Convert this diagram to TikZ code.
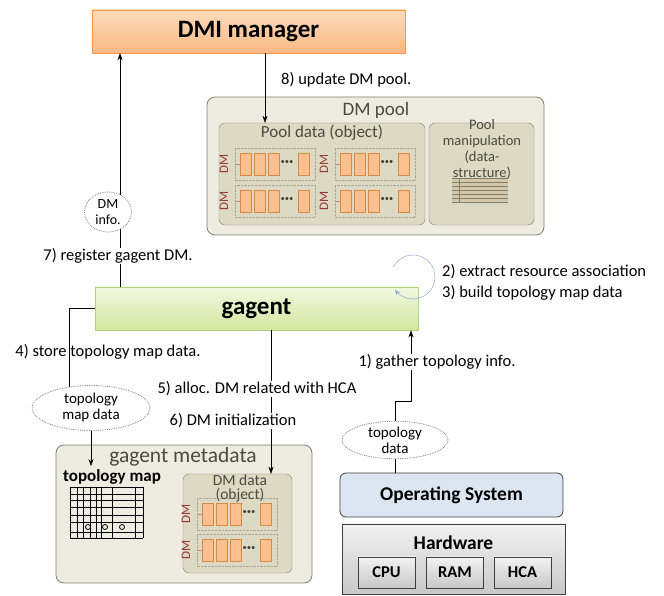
\documentclass[tikz,border=0pt]{standalone}
\usepackage{fontspec}
\setmainfont{Carlito}
\usetikzlibrary{shapes.geometric,arrows.meta}

\definecolor{dmitop}{HTML}{FDDCBC}
\definecolor{dmibot}{HTML}{F9B985}
\definecolor{dmiedge}{HTML}{F79646}
\definecolor{gagtop}{HTML}{F2F8E0}
\definecolor{gagbot}{HTML}{D2E7A0}
\definecolor{gagedge}{HTML}{B5D27A}
\definecolor{outerbg}{HTML}{EEECE1}
\definecolor{innerbg}{HTML}{DDD9C3}
\definecolor{boxedge}{HTML}{7F7F70}
\definecolor{titlecol}{HTML}{4A4A40}
\definecolor{cellfill}{HTML}{FAC08F}
\definecolor{celledge}{HTML}{D88A45}
\definecolor{dmcol}{HTML}{953735}
\definecolor{loopcol}{HTML}{7F9FD8}
\definecolor{osfill}{HTML}{DCE6F2}
\definecolor{darkedge}{HTML}{3F3F3F}
\definecolor{hwtop}{HTML}{F2F2F2}
\definecolor{hwbot}{HTML}{C8C8C8}

\begin{document}
\begin{tikzpicture}[x=1pt, y=1pt, >={Stealth[length=7pt,width=5pt]},
	lbl/.style={font=\fontsize{16.5}{18}\selectfont, fill=white, inner sep=1pt},
	outerbox/.style={draw=boxedge, fill=outerbg, rounded corners=8pt, thick},
	innerbox/.style={draw=boxedge, fill=innerbg, rounded corners=6pt},
	title/.style={font=\fontsize{19}{21}\selectfont, text=titlecol},
	sub/.style={font=\fontsize{17}{13.5}\selectfont, text=titlecol, align=center},
	bubble/.style={ellipse, draw=gray, densely dotted, thick, fill=white, inner sep=0pt, align=center, font=\fontsize{15}{16}\selectfont},
	cell/.style={draw=celledge, fill=cellfill},
	group/.style={draw=boxedge!70, densely dotted},
	dmlab/.style={font=\fontsize{13}{13}\selectfont, text=dmcol, rotate=90},
	chip/.style={draw=darkedge, thick, top color=hwtop, bottom color=hwbot, minimum width=57pt, minimum height=31pt, font=\fontsize{16.5}{18}\selectfont\bfseries}]
	\useasboundingbox (0,0) rectangle (664,596);
	% DMI manager
	\node[draw=dmiedge, top color=dmitop, bottom color=dmibot, minimum width=313pt, minimum height=43pt, font=\fontsize{25}{27}\selectfont\bfseries] (dmi) at (248.5,564.5) {DMI manager};
	% DM pool
	\node[outerbox, minimum width=337pt, minimum height=138pt] (pool) at (375.5,430) {};
	\node[title] (pooltitle) at (376,486) {DM pool};
	\node[innerbox, minimum width=206pt, minimum height=102pt] (pooldata) at (322,422) {};
	\node[sub] (pdtitle) at (322,463) {Pool data (object)};
	\node[innerbox, minimum width=105pt, minimum height=102pt] (poolman) at (481.5,422) {};
	\fill[innerbg!80!brown] (452,394) rectangle (508,418);
	\foreach \ty in {394,398,...,418} { \draw[boxedge, thin] (452,\ty) -- (508,\ty); }
	\draw[boxedge, thin] (459,394) -- (459,418);
	\node[sub, font=\fontsize{14.5}{16}\selectfont] (pmtext) at (482,447) {Pool\\manipulation\\(data-\\structure)};
	% gagent metadata
	\node[outerbox, minimum width=256pt, minimum height=138pt] (meta) at (184,82) {};
	\node[title, font=\fontsize{21.5}{23}\selectfont] (metatitle) at (183,139) {gagent metadata};
	\node[font=\fontsize{17}{19}\selectfont\bfseries] (tmap) at (112,119) {topology map};
	\foreach \gx in {70,77,83,90,96,101,112,135,143} { \draw[thick] (\gx,58) -- (\gx,109); }
	\foreach \gy in {58,64,74,81,89,96,102,109} { \draw[thick] (70,\gy) -- (143,\gy); }
	\foreach \cx in {88,105,122} { \draw[thick, fill=outerbg] (\cx,69) circle (2.5pt); }
	\node[innerbox, minimum width=109pt, minimum height=99pt] (dmdata) at (237.5,72.5) {};
	% DM rows (pool and metadata)
	\foreach \gx/\gy/\n in {235/416/a, 335/416/b, 235/379/c, 335/379/d, 197/66/e, 197/30/f} {
		\draw[group] (\gx,\gy) rectangle ++(80,32);
		\foreach \c in {5,19,33,63} { \draw[cell] (\gx+\c,\gy+5) rectangle ++(11,22); }
		\draw[dmcol!60, thin] (\gx,\gy+16) -- (\gx+5,\gy+16);
		\node[font=\fontsize{16}{16}\selectfont\bfseries, text=darkedge] (dots\n) at (\gx+52,\gy+16) {···};
		\node[dmlab] (dm\n) at (\gx-11,\gy+16) {DM};
	}
	\node[sub, font=\fontsize{15.5}{14}\selectfont] (ddtitle) at (240,108) {DM data\\(object)};
	% gagent
	\node[draw=gagedge, thick, top color=gagtop, bottom color=gagbot, minimum width=323pt, minimum height=43pt, font=\fontsize{25}{27}\selectfont\bfseries] (gagent) at (256.5,287.5) {gagent};
	% 7) register
	\coordinate (regx) at (120,0);
	\draw[->] (gagent.north -| regx) -- (dmi.south -| regx);
	\node[bubble, minimum width=47pt, minimum height=40pt, font=\fontsize{14}{16}\selectfont] (dminfo) at (108,384) {DM\\info.};
	\node[lbl] (l7) at (118,340) {7) register gagent DM.};
	% 8) update
	\coordinate (updx) at (265,0);
	\draw[->] (dmi.south -| updx) -- (pooldata.north -| updx);
	\node[lbl, anchor=west] (l8) at (280,516) {8) update DM pool.};
	% 2) 3) self loop
	\coordinate (loopc) at (413,319);
	\draw[loopcol, -{Stealth[length=5pt,width=4pt]}] (loopc) ++(153:22pt) arc[start angle=153, end angle=-144, radius=22pt];
	\node[lbl, anchor=west] (l2) at (441,324) {2) extract resource association};
	\node[lbl, anchor=west] (l3) at (441,303) {3) build topology map data};
	% 4) store
	\node[bubble, minimum width=118pt, minimum height=45pt] (tmd) at (91,188) {topology\\map data};
	\draw (gagent.west) -| (tmd.135);
	\node[lbl, fill=none] (l4) at (108,244) {4) store topology map data.};
	\draw[->] (tmd.south) -- (tmd.south |- tmap.north);
	% 5) 6) alloc and init
	\coordinate (alx) at (271,0);
	\draw[->] (gagent.south -| alx) -- (dmdata.north -| alx);
	\node[lbl] (l5) at (257,207) {5) alloc. DM related with HCA};
	\node[lbl] (l6) at (233,175) {6) DM initialization};
	% OS and hardware
	\node[draw=darkedge, thick, fill=osfill, rounded corners=6pt, minimum width=223pt, minimum height=44pt, font=\fontsize{19.5}{21}\selectfont\bfseries] (os) at (451.5,101) {Operating System};
	\node[draw=darkedge, thick, top color=hwtop, bottom color=hwbot, minimum width=223pt, minimum height=70pt] (hw) at (453.5,37) {};
	\node[font=\fontsize{19.5}{21}\selectfont\bfseries] (hwtitle) at (453.5,53) {Hardware};
	\foreach \hx/\hn in {386.5/CPU, 455/RAM, 522.5/HCA} { \node[chip] (\hn) at (\hx,23.5) {\hn}; }
	% 1) gather
	\node[bubble, minimum width=106pt, minimum height=35pt] (tdata) at (395,156) {topology\\data};
	\draw (os.north -| tdata) -- (tdata.south);
	\coordinate (gx) at (411,0);
	\draw[->] (tdata.north) -- ++(0,19.5) -| (gagent.south -| gx);
	\node[lbl] (l1) at (437,234) {1) gather topology info.};
\end{tikzpicture}
\end{document}
